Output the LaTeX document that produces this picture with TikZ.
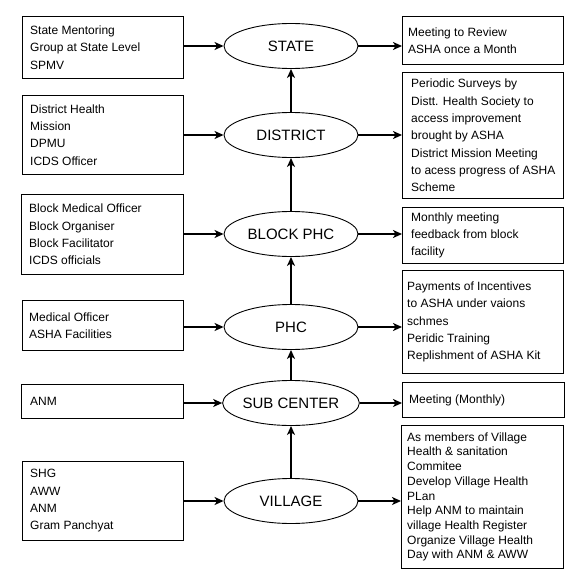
\documentclass[tikz,border=0pt]{standalone}
\usepackage{fontspec}
\setmainfont{Liberation Sans}
\usetikzlibrary{shapes.geometric,arrows.meta}
\begin{document}
\begin{tikzpicture}[x=1pt,y=-1pt,
  box/.style={draw=black,line width=0.9pt,rectangle,inner sep=0pt,anchor=north west},
  txt/.style={anchor=west,align=left,inner sep=0pt,font=\fontsize{12}{17.3}\selectfont},
  txtt/.style={anchor=west,align=left,inner sep=0pt,font=\fontsize{12}{14.7}\selectfont},
  lvl/.style={draw=black,line width=0.9pt,ellipse,minimum width=134pt,minimum height=45pt,inner sep=0pt,font=\fontsize{15}{18}\selectfont},
  arr/.style={line width=1.6pt,-{Stealth[length=9pt,width=8pt,inset=2.5pt]}}
]
\useasboundingbox (0,0) rectangle (585,586);
% levels
\node[lvl] (st) at (291,46) {STATE};
\node[lvl] (di) at (291,135) {DISTRICT};
\node[lvl] (bl) at (291,234) {BLOCK PHC};
\node[lvl] (ph) at (291,327) {PHC};
\node[lvl] (sc) at (291,403) {SUB CENTER};
\node[lvl] (vi) at (291,501) {VILLAGE};
% left boxes
\node[box,minimum width=161pt,minimum height=62pt] (L1) at (22,16) {};
\node[txt] (L1t) at ([xshift=8pt]L1.west) {State Mentoring\\Group at State Level\\SPMV};
\node[box,minimum width=161pt,minimum height=79pt] (L2) at (22,95) {};
\node[txt] (L2t) at ([xshift=8pt]L2.west) {District Health\\Mission\\DPMU\\ICDS Officer};
\node[box,minimum width=162pt,minimum height=80pt] (L3) at (21,194) {};
\node[txt] (L3t) at ([xshift=8pt]L3.west) {Block Medical Officer\\Block Organiser\\Block Facilitator\\ICDS officials};
\node[box,minimum width=161pt,minimum height=50pt] (L4) at (22,300) {};
\node[txt] (L4t) at ([xshift=7pt]L4.west) {Medical Officer\\ASHA Facilities};
\node[box,minimum width=162pt,minimum height=34pt] (L5) at (21,384) {};
\node[txt] (L5t) at ([xshift=9pt]L5.west) {ANM};
\node[box,minimum width=161pt,minimum height=79pt] (L6) at (22,461) {};
\node[txt] (L6t) at ([xshift=8pt]L6.west) {SHG\\AWW\\ANM\\Gram Panchyat};
% right boxes
\node[box,minimum width=161pt,minimum height=48pt] (R1) at (402,16) {};
\node[txt] (R1t) at ([xshift=6pt]R1.west) {Meeting to Review\\ASHA once a Month};
\node[box,minimum width=161pt,minimum height=126pt] (R2) at (402,72) {};
\node[txt] (R2t) at ([xshift=9pt]R2.west) {Periodic Surveys by\\Distt. Health Society to\\access improvement\\brought by ASHA\\District Mission Meeting\\to acess progress of ASHA\\Scheme};
\node[box,minimum width=161pt,minimum height=56pt] (R3) at (402,207) {};
\node[txt] (R3t) at ([xshift=9pt]R3.west) {Monthly meeting\\feedback from block\\facility};
\node[box,minimum width=161pt,minimum height=103pt] (R4) at (402,270) {};
\node[txt] (R4t) at ([xshift=5pt]R4.west) {Payments of Incentives\\to ASHA under vaions\\schmes\\Peridic Training\\Replishment of ASHA Kit};
\node[box,minimum width=162pt,minimum height=35pt] (R5) at (402,382) {};
\node[txt] (R5t) at ([xshift=7pt]R5.west) {Meeting (Monthly)};
\node[box,minimum width=162pt,minimum height=143pt] (R6) at (401,425) {};
\node[txtt] (R6t) at ([xshift=6pt]R6.west) {As members of Village\\Health \& sanitation\\Commitee\\Develop Village Health\\PLan\\Help ANM to maintain\\village Health Register\\Organize Village Health\\Day with ANM \& AWW};
% left arrows
\draw[arr] (L1.east |- st) -- (st.west);
\draw[arr] (L2.east |- di) -- (di.west);
\draw[arr] (L3.east |- bl) -- (bl.west);
\draw[arr] (L4.east |- ph) -- (ph.west);
\draw[arr] (L5.east |- sc) -- (sc.west);
\draw[arr] (L6.east |- vi) -- (vi.west);
% right arrows
\draw[arr] (st.east) -- (st.east -| R1.west);
\draw[arr] (di.east) -- (di.east -| R2.west);
\draw[arr] (bl.east) -- (bl.east -| R3.west);
\draw[arr] (ph.east) -- (ph.east -| R4.west);
\draw[arr] (sc.east) -- (sc.east -| R5.west);
\draw[arr] (vi.east) -- (vi.east -| R6.west);
% vertical arrows
\draw[arr] (vi.north) -- (sc.south);
\draw[arr] (sc.north) -- (ph.south);
\draw[arr] (ph.north) -- (bl.south);
\draw[arr] (bl.north) -- (di.south);
\draw[arr] (di.north) -- (st.south);
\end{tikzpicture}
\end{document}
